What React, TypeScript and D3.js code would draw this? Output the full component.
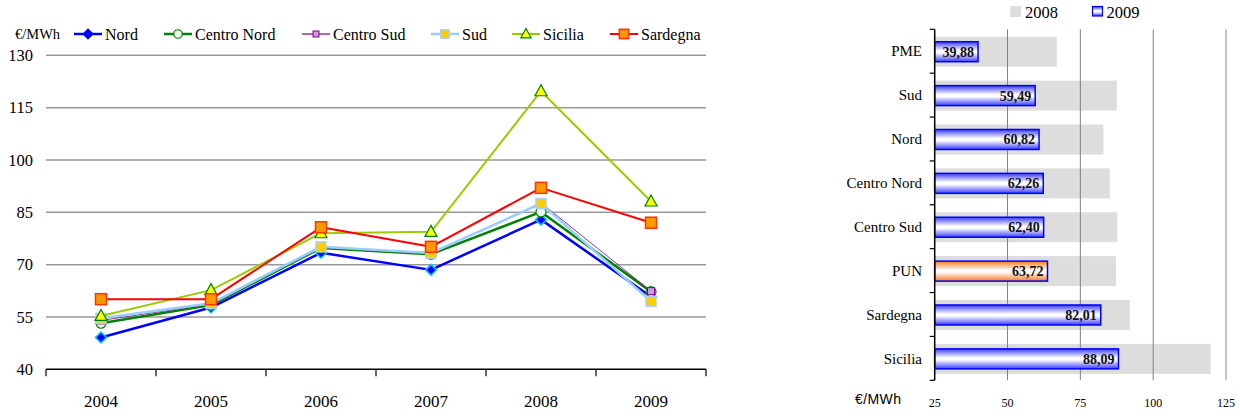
import React from "react";
import * as d3 from "d3";

// ---- Data: zonal electricity prices (€/MWh) ----
const years = ["2004", "2005", "2006", "2007", "2008", "2009"];
const seriesNames = ["Nord", "Centro Nord", "Centro Sud", "Sud", "Sicilia", "Sardegna"];
const nord = [49.1, 57.7, 73.4, 68.5, 82.9, 60.82];
const centroNord = [53.2, 58.4, 74.8, 73.0, 85.1, 62.26];
const centroSud = [54.0, 58.7, 75.0, 73.2, 87.7, 62.4];
const sud = [54.6, 58.9, 75.1, 73.3, 87.5, 59.49];
const sicilia = [55.3, 62.7, 79.0, 79.4, 119.7, 88.09];
const sardegna = [60.1, 60.1, 80.7, 75.1, 92.0, 82.01];
const lineTicks = [40, 55, 70, 85, 100, 115, 130];

const barCategories = ["PME", "Sud", "Nord", "Centro Nord", "Centro Sud", "PUN", "Sardegna", "Sicilia"];
const values2008 = [66.9, 87.5, 82.9, 85.1, 87.7, 87.2, 92.0, 119.7];
const values2009 = [39.88, 59.49, 60.82, 62.26, 62.4, 63.72, 82.01, 88.09];
const barTicks = [25, 50, 75, 100, 125];

const SERIF = '"Liberation Serif", Tinos, "Times New Roman", Times, "DejaVu Serif", serif';
const SANS = '"Liberation Sans", Arimo, Arial, sans-serif';

type MarkerKind = "diamond" | "circle" | "smallSquare" | "square" | "triangle" | "bigSquare";
interface SeriesStyle {
  values: number[];
  color: string;
  width: number;
  marker: MarkerKind;
  fill: string;
  stroke: string;
}

const styles: SeriesStyle[] = [
  { values: nord, color: "#0000ff", width: 2.5, marker: "diamond", fill: "#0000ff", stroke: "#00ccff" },
  { values: centroNord, color: "#008000", width: 2.5, marker: "circle", fill: "#eef8ee", stroke: "#008000" },
  { values: centroSud, color: "#993399", width: 1, marker: "smallSquare", fill: "#d596e6", stroke: "#800080" },
  { values: sud, color: "#99ccff", width: 2.5, marker: "square", fill: "#ffcc00", stroke: "#a6d2ff" },
  { values: sicilia, color: "#99cc00", width: 2, marker: "triangle", fill: "#ffff00", stroke: "#008000" },
  { values: sardegna, color: "#ff0000", width: 2, marker: "bigSquare", fill: "#ff9900", stroke: "#ff3300" },
];

const serifStyle = (size: number, bold = false): React.CSSProperties => ({
  fontFamily: SERIF,
  fontSize: size,
  fontWeight: bold ? 700 : 400,
});

function Marker({ kind, x, y, fill, stroke, s = 1 }: { kind: MarkerKind; x: number; y: number; fill: string; stroke: string; s?: number }) {
  switch (kind) {
    case "diamond": {
      const r = 5.5 * s;
      return <path d={`M${x},${y - r}L${x + r},${y}L${x},${y + r}L${x - r},${y}Z`} fill={fill} stroke={stroke} strokeWidth={1.5} />;
    }
    case "circle":
      return <circle cx={x} cy={y} r={5 * s} fill={fill} stroke={stroke} strokeWidth={1.2} />;
    case "smallSquare": {
      const h = 3.5 * s;
      return <rect x={x - h} y={y - h} width={2 * h} height={2 * h} fill={fill} stroke={stroke} strokeWidth={1} />;
    }
    case "square": {
      const h = 5 * s;
      return <rect x={x - h} y={y - h} width={2 * h} height={2 * h} fill={fill} stroke={stroke} strokeWidth={1.5} />;
    }
    case "triangle": {
      const w = 6 * s;
      return <path d={`M${x},${y - 6.5 * s}L${x + w},${y + 4.5 * s}L${x - w},${y + 4.5 * s}Z`} fill={fill} stroke={stroke} strokeWidth={1.2} />;
    }
    case "bigSquare": {
      const h = 5.5 * s;
      return <rect x={x - h} y={y - h} width={2 * h} height={2 * h} fill={fill} stroke={stroke} strokeWidth={1.5} />;
    }
  }
}

function LineChart() {
  const x = d3.scaleBand<string>().domain(years).range([46, 706]);
  const y = d3.scaleLinear().domain([40, 130]).range([369.3, 55.3]);
  const cx = (i: number) => (x(years[i]) as number) + x.bandwidth() / 2;
  const line = d3
    .line<number>()
    .x((_, i) => cx(i))
    .y((v) => y(v));
  const legendX = [74, 164, 302, 431, 512, 610];
  const boundaries = years.map((yr) => x(yr) as number).concat([706]);

  return (
    <g>
      {/* horizontal gridlines */}
      {lineTicks.filter((t) => t > 40).map((t) => (
        <line key={t} x1={46} x2={706} y1={y(t)} y2={y(t)} stroke="#999" strokeWidth={1.5} />
      ))}
      {/* y tick labels */}
      {lineTicks.map((t) => (
        <text key={t} x={33} y={y(t)} dy="0.35em" textAnchor="end" style={serifStyle(16.5)} fill="#000">
          {t}
        </text>
      ))}
      {/* x axis */}
      <line x1={46} x2={706} y1={y(40)} y2={y(40)} stroke="#000" strokeWidth={1.5} />
      {boundaries.map((b, i) => (
        <line key={i} x1={b} x2={b} y1={y(40)} y2={y(40) + 7} stroke="#000" strokeWidth={1.2} />
      ))}
      {years.map((yr, i) => (
        <text key={yr} x={cx(i)} y={406.5} textAnchor="middle" style={serifStyle(17)} fill="#000">
          {yr}
        </text>
      ))}
      {/* series */}
      {styles.map((s, si) => (
        <g key={si}>
          <path d={line(s.values) || ""} fill="none" stroke={s.color} strokeWidth={s.width} strokeLinejoin="round" />
          {s.values.map((v, i) => (
            <Marker key={i} kind={s.marker} x={cx(i)} y={y(v)} fill={s.fill} stroke={s.stroke} />
          ))}
        </g>
      ))}
      {/* unit label and legend */}
      <text x={15} y={39} style={serifStyle(14.5)} fill="#000">€/MWh</text>
      {styles.map((s, si) => (
        <g key={si}>
          <line x1={legendX[si]} x2={legendX[si] + 28} y1={34} y2={34} stroke={s.color} strokeWidth={Math.max(s.width, 1.5)} />
          <Marker kind={s.marker} x={legendX[si] + 14} y={34} fill={s.fill} stroke={si === 0 ? "#0000ff" : s.stroke} s={0.85} />
          <text x={legendX[si] + 31} y={34} dy="0.35em" style={serifStyle(16)} fill="#000">
            {seriesNames[si]}
          </text>
        </g>
      ))}
    </g>
  );
}

function BarChart() {
  const x = d3.scaleLinear().domain([25, 125]).range([934.7, 1226]);
  const y = d3.scaleBand<string>().domain(barCategories).range([29.3, 380.3]);
  const bw = y.bandwidth();
  const mid = (c: string) => (y(c) as number) + bw / 2;
  const fmt = (v: number) => v.toFixed(2).replace(".", ",");
  const edges = barCategories.map((c) => y(c) as number).concat([380.3]);

  return (
    <g>
      <defs>
        <linearGradient id="blueCyl" x1="0" y1="0" x2="0" y2="1">
          <stop offset="0" stopColor="#3c3cff" />
          <stop offset="0.45" stopColor="#ffffff" />
          <stop offset="0.55" stopColor="#ffffff" />
          <stop offset="1" stopColor="#3c3cff" />
        </linearGradient>
        <linearGradient id="orangeCyl" x1="0" y1="0" x2="0" y2="1">
          <stop offset="0" stopColor="#ff7a1a" />
          <stop offset="0.45" stopColor="#ffffff" />
          <stop offset="0.55" stopColor="#ffffff" />
          <stop offset="1" stopColor="#ff7a1a" />
        </linearGradient>
      </defs>
      {/* 2008 bars */}
      {barCategories.map((c, i) => (
        <rect key={c} x={x(25)} y={mid(c) - 14.5} width={x(values2008[i]) - x(25)} height={30} fill="#dddddd" />
      ))}
      {/* vertical gridlines */}
      {barTicks.filter((t) => t > 25).map((t) => (
        <line key={t} x1={x(t)} x2={x(t)} y1={29.3} y2={380.3} stroke={t === 125 ? "#b0b0b0" : "#808080"} strokeWidth={t === 125 ? 1.5 : 1} />
      ))}
      {/* 2009 bars */}
      {barCategories.map((c, i) => (
        <g key={c}>
          <rect
            x={x(25)}
            y={mid(c) - 9.5}
            width={x(values2009[i]) - x(25)}
            height={20}
            fill={c === "PUN" ? "url(#orangeCyl)" : "url(#blueCyl)"}
            stroke="#0000ff"
            strokeWidth={1.5}
          />
          <text x={x(values2009[i]) - 4} y={mid(c) + 0.5} dy="0.35em" textAnchor="end" style={serifStyle(14, true)} fill="#111">
            {fmt(values2009[i])}
          </text>
          <text x={922} y={mid(c)} dy="0.35em" textAnchor="end" style={serifStyle(15)} fill="#000">
            {c}
          </text>
        </g>
      ))}
      {/* category axis */}
      <line x1={x(25)} x2={x(25)} y1={29.3} y2={380.3} stroke="#000" strokeWidth={1.5} />
      {edges.map((e, i) => (
        <line key={i} x1={x(25) - 5} x2={x(25)} y1={e} y2={e} stroke="#000" strokeWidth={1.2} />
      ))}
      {/* value axis labels */}
      {barTicks.map((t) => (
        <text key={t} x={x(t)} y={403} dy="0.35em" textAnchor="middle" style={serifStyle(12)} fill="#000">
          {t}
        </text>
      ))}
      <text x={855} y={399} dy="0.35em" style={{ fontFamily: SANS, fontSize: 14, letterSpacing: 0.4 }} fill="#000">€/MWh</text>
      {/* legend */}
      <rect x={1010} y={6} width={11} height={11} fill="#dddddd" />
      <text x={1025} y={12.5} dy="0.35em" style={serifStyle(16.5)} fill="#000">2008</text>
      <rect x={1092.5} y={6.5} width={10} height={9.5} fill="url(#blueCyl)" stroke="#0000ff" strokeWidth={1.2} />
      <text x={1106.5} y={12.5} dy="0.35em" style={serifStyle(16.5)} fill="#000">2009</text>
    </g>
  );
}

export default function App() {
  return (
    <svg
      width={1240}
      height={416}
      viewBox="0 0 1240 416"
      style={{ position: "absolute", left: 0, top: 0, background: "#fff" }}
    >
      <rect width={1240} height={416} fill="#fff" />
      <LineChart />
      <BarChart />
    </svg>
  );
}
